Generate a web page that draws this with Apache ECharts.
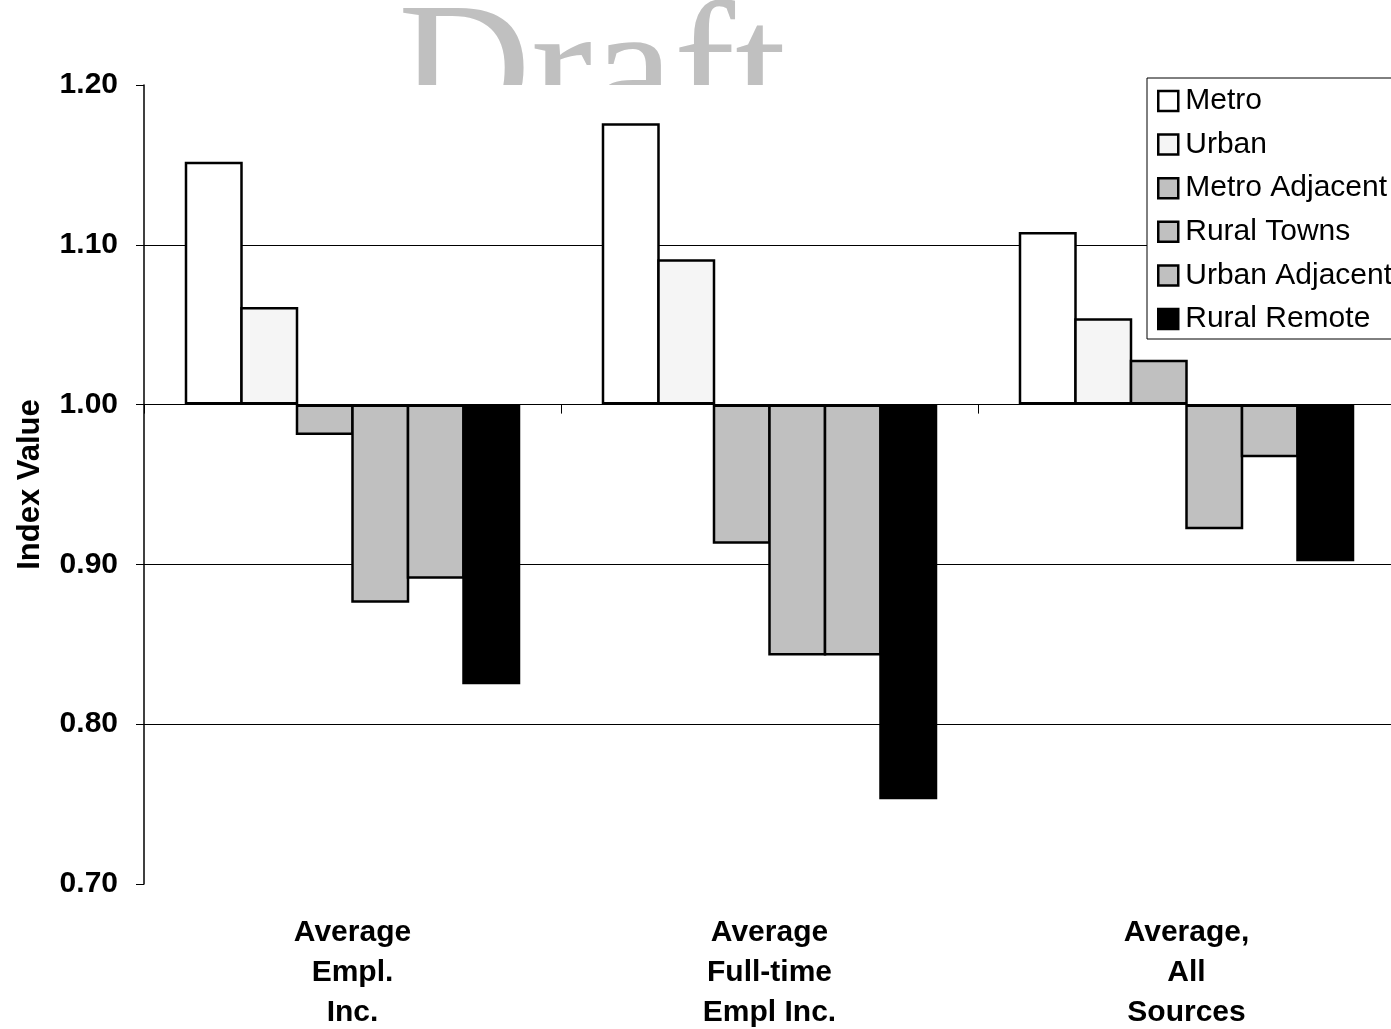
<!DOCTYPE html>
<html>
<head>
<meta charset="utf-8">
<style>
html,body{margin:0;padding:0;background:#fff;}
#chart{width:1391px;height:1029px;}
</style>
<script src="https://cdn.jsdelivr.net/npm/echarts@6/dist/echarts.min.js"></script>
</head>
<body>
<div id="chart"></div>
<script>
// ---- data ----
const categories = ['Average\nEmpl.\nInc.', 'Average\nFull-time\nEmpl Inc.', 'Average,\nAll\nSources'];
const seriesNames = ['Metro', 'Urban', 'Metro Adjacent', 'Rural Towns', 'Urban Adjacent', 'Rural Remote'];
const metro         = [1.152, 1.176, 1.108];
const urban         = [1.061, 1.091, 1.054];
const metroAdjacent = [0.981, 0.913, 1.028];
const ruralTowns    = [0.876, 0.843, 0.922];
const urbanAdjacent = [0.891, 0.843, 0.967];
const ruralRemote   = [0.825, 0.753, 0.902];
const baseValue = 1.0;
const yTicks = [0.70, 0.80, 0.90, 1.00, 1.10, 1.20];
const yAxisTitle = 'Index Value';
const watermark = 'Draft';

// ---- styles ----
const allValues = [metro, urban, metroAdjacent, ruralTowns, urbanAdjacent, ruralRemote];
const fills = ['#ffffff', '#f5f5f5', '#c0c0c0', '#c0c0c0', '#c0c0c0', '#000000'];
const FONT = '"Liberation Sans", Arial, sans-serif';
const BORDER = 2.5;
const BAR_W = 58;

const series = seriesNames.map((name, i) => ({
  name: name,
  type: 'bar',
  xAxisIndex: 0,
  barGap: (-BORDER / BAR_W * 100).toFixed(2) + '%',
  barWidth: BAR_W,
  data: allValues[i].map(v => +(v - baseValue).toFixed(4)),
  itemStyle: { color: fills[i], borderColor: '#000', borderWidth: BORDER },
  emphasis: { disabled: true },
  z: 3
}));

const chart = echarts.init(document.getElementById('chart'), null, { renderer: 'canvas' });
chart.setOption({
  animation: false,
  backgroundColor: '#ffffff',
  textStyle: { fontFamily: FONT },
  graphic: [{
    type: 'text',
    z: -10,
    silent: true,
    style: {
      text: watermark,
      x: 398,
      y: 81,
      font: 'normal 184px "Liberation Serif", "Times New Roman", serif',
      fill: '#c0c0c0',
      align: 'left',
      verticalAlign: 'middle'
    }
  }],
  grid: {
    left: 144, top: 85, right: -4, bottom: 145,
    show: true, backgroundColor: '#ffffff', borderWidth: 0,
    containLabel: false,
    outerBoundsMode: 'none'
  },
  legend: {
    orient: 'vertical',
    left: 1147, top: 78,
    padding: [8, 14, 5, 10],
    itemWidth: 20, itemHeight: 20,
    itemGap: 13.6,
    icon: 'rect',
    backgroundColor: '#ffffff',
    borderColor: '#000000',
    borderWidth: 1,
    borderRadius: 0,
    data: seriesNames,
    itemStyle: { borderColor: '#000', borderWidth: 2.5 },
    textStyle: { fontFamily: FONT, fontSize: 30, color: '#000', lineHeight: 30, padding: [0, 0, 0, 2] }
  },
  xAxis: [{
    type: 'category',
    data: categories,
    position: 'bottom',
    axisLine: { show: true, onZero: true, lineStyle: { color: '#000', width: 1 } },
    axisTick: { show: true, length: 9, lineStyle: { color: '#000', width: 1 } },
    axisLabel: { show: false },
    splitLine: { show: false }
  }, {
    type: 'category',
    data: categories,
    position: 'bottom',
    axisLine: { show: false, onZero: false },
    axisTick: { show: false },
    axisLabel: {
      show: true, margin: 29, interval: 0,
      fontFamily: FONT, fontSize: 30, fontWeight: 'bold', color: '#000',
      lineHeight: 40, align: 'center'
    },
    splitLine: { show: false }
  }],
  yAxis: {
    type: 'value',
    min: yTicks[0] - baseValue,
    max: yTicks[yTicks.length - 1] - baseValue,
    interval: 0.1,
    name: yAxisTitle,
    nameLocation: 'middle',
    nameGap: 98,
    nameRotate: 90,
    nameTextStyle: { fontFamily: FONT, fontSize: 31, fontWeight: 'bold', color: '#000' },
    axisLine: { show: true, lineStyle: { color: '#000', width: 1.5 } },
    axisTick: { show: true, length: 8, lineStyle: { color: '#000', width: 1 } },
    axisLabel: {
      margin: 26,
      fontFamily: FONT, fontSize: 30, fontWeight: 'bold', color: '#000',
      formatter: v => (v + baseValue).toFixed(2)
    },
    splitLine: { show: true, showMinLine: false, showMaxLine: false, lineStyle: { color: '#000', width: 1 } }
  },
  series: series
});
</script>
</body>
</html>
